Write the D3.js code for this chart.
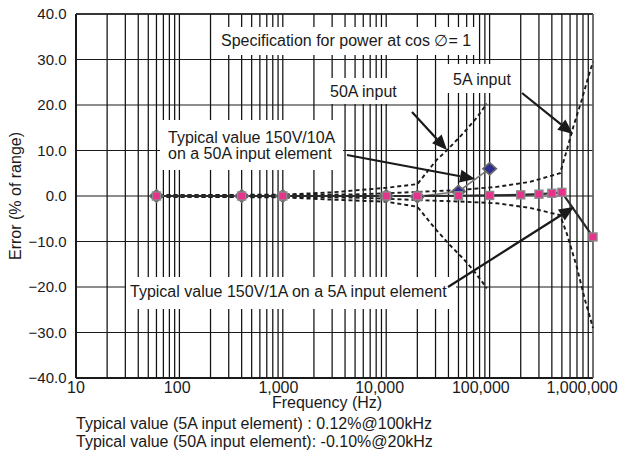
<!DOCTYPE html>
<html><head><meta charset="utf-8">
<script src="https://cdn.jsdelivr.net/npm/d3@7"></script>
<style>
body{margin:0;background:#fff}
svg{display:block;font-family:"Liberation Sans",Arial,Helvetica,sans-serif}
</style>
</head><body>
<svg id="c" width="619" height="454"></svg>
<script>
// ---------- data ----------
const yTickValues = [40, 30, 20, 10, 0, -10, -20, -30, -40];
const xTickValues = [10, 100, 1000, 10000, 100000, 1000000];
const xTickLabels = ["10", "100", "1,000", "10,000", "100,000", "1,000,000"];

// Typical value 150V/1A on a 5A input element (pink squares)
const freq5A = [60, 400, 1000, 10000, 20000, 50000, 100000, 200000, 300000, 400000, 500000, 1000000];
const err5A  = [0, 0, 0, 0, 0, 0.05, 0.12, 0.25, 0.4, 0.6, 0.8, -9.0];

// Typical value 150V/10A on a 50A input element (blue diamonds)
const freq50A = [60, 400, 1000, 10000, 20000, 50000, 100000];
const err50A  = [0, 0, 0, 0, -0.1, 1.0, 6.0];

// Specification for power at cos = 1 (dashed)
const spec5AUpFreq  = [55, 1000, 5000, 10000, 20000, 50000, 117000, 245000, 480000, 557000, 645000, 778000, 901000, 1000000];
const spec5AUpVal   = [0.15, 0.2, 0.35, 0.6, 0.9, 1.3, 2.0, 3.1, 5.0, 10.0, 15.2, 21.1, 26.2, 29.5];
const spec5ALoFreq  = [55, 1000, 5000, 10000, 20000, 50000, 117000, 245000, 480000, 557000, 695000, 838000, 1000000];
const spec5ALoVal   = [-0.15, -0.2, -0.35, -0.6, -0.9, -1.2, -1.6, -2.6, -4.2, -8.2, -15.5, -22.9, -29.0];
const spec50AUpFreq = [55, 1000, 3000, 10000, 20000, 30600, 38500, 55700, 75000, 94000];
const spec50AUpVal  = [0.15, 0.3, 0.8, 1.8, 2.6, 7.9, 10.0, 13.8, 17.2, 20.3];
const spec50ALoFreq = [55, 1000, 3000, 10000, 20000, 30600, 41400, 55700, 69500, 86900, 94000];
const spec50ALoVal  = [-0.15, -0.3, -0.8, -1.25, -2.35, -7.5, -10.8, -13.8, -16.3, -19.2, -20.3];

const yLabel = "Error (% of range)";
const xLabel = "Frequency (Hz)";
const captions = ["Typical value (5A input element) : 0.12%@100kHz",
                  "Typical value (50A input element): -0.10%@20kHz"];

// ---------- drawing ----------
const svg = d3.select("#c");
const W = 619, H = 454;
const x = d3.scaleLog().domain([10, 1e6]).range([76, 593]);
const y = d3.scaleLinear().domain([-40, 40]).range([378, 14]);
const ink = "#1a1a1a";

svg.append("rect").attr("width", W).attr("height", H).attr("fill", "#fff");

// vertical log grid
const g = svg.append("g");
g.selectAll("line.v").data(x.ticks()).join("line")
  .attr("x1", d => x(d)).attr("x2", d => x(d))
  .attr("y1", y(40)).attr("y2", y(-40))
  .attr("stroke", "#111").attr("stroke-width", 1.25);
// horizontal grid
g.selectAll("line.h").data(yTickValues).join("line")
  .attr("x1", x(10)).attr("x2", x(1e6))
  .attr("y1", d => y(d)).attr("y2", d => y(d))
  .attr("stroke", "#1a1a1a").attr("stroke-width", 1.2);
// frame
g.append("line").attr("x1", x(10)).attr("x2", x(10)).attr("y1", y(40)).attr("y2", y(-40)).attr("stroke", ink).attr("stroke-width", 2);
g.append("line").attr("x1", x(10)).attr("x2", x(1e6)).attr("y1", y(-40)).attr("y2", y(-40)).attr("stroke", ink).attr("stroke-width", 2);
g.append("line").attr("x1", x(10)).attr("x2", x(1e6)).attr("y1", y(40)).attr("y2", y(40)).attr("stroke", ink).attr("stroke-width", 1.6);
g.append("line").attr("x1", x(1e6)).attr("x2", x(1e6)).attr("y1", y(40)).attr("y2", y(-40)).attr("stroke", "#777").attr("stroke-width", 1.2);

// annotation boxes (white, hide grid)
const boxes = [
  [212, 27, 265, 28],
  [322, 78, 83, 26],
  [447, 64, 72, 29],
  [160, 120, 183, 50],
  [126, 277, 330, 32]
];
svg.selectAll("rect.box").data(boxes).join("rect")
  .attr("x", d => d[0]).attr("y", d => d[1]).attr("width", d => d[2]).attr("height", d => d[3])
  .attr("fill", "#fff");

// spec curves
const line = d3.line().x(d => x(d[0])).y(d => y(d[1]));
const specs = [
  d3.zip(spec5AUpFreq, spec5AUpVal),
  d3.zip(spec5ALoFreq, spec5ALoVal),
  d3.zip(spec50AUpFreq, spec50AUpVal),
  d3.zip(spec50ALoFreq, spec50ALoVal)
];
svg.selectAll("path.spec").data(specs).join("path")
  .attr("d", line).attr("fill", "none")
  .attr("stroke", "#1a1a1a").attr("stroke-width", 1.9).attr("stroke-dasharray", "4,3");

// series lines
const s50 = d3.zip(freq50A, err50A);
const s5 = d3.zip(freq5A, err5A);
svg.append("path").attr("d", line(s50)).attr("fill", "none").attr("stroke", "#777").attr("stroke-width", 1.6);
svg.append("path").attr("d", line(s5)).attr("fill", "none").attr("stroke", "#2a2a2a").attr("stroke-width", 2.2);

// diamonds
svg.selectAll("path.dia").data(s50).join("path")
  .attr("d", d3.symbol().type(d3.symbolDiamond2).size(95))
  .attr("transform", d => `translate(${x(d[0])},${y(d[1])}) scale(1.1,1)`)
  .attr("fill", "#2e2e8f").attr("stroke", "#6a6a6a").attr("stroke-width", 1.6);
// squares
svg.selectAll("rect.sq").data(s5).join("rect")
  .attr("x", d => x(d[0]) - 4).attr("y", d => y(d[1]) - 4)
  .attr("width", 8).attr("height", 8)
  .attr("fill", "#e8328c").attr("stroke", "#8a8a8a").attr("stroke-width", 1.4);

// arrows
const arrows = [
  [412, 112, 447, 150],
  [522, 93, 573, 134],
  [347, 155, 475, 179],
  [448, 287, 574, 207]
];
arrows.forEach(a => {
  const [x1, y1, x2, y2] = a;
  const ang = Math.atan2(y2 - y1, x2 - x1);
  const L = 15, Wd = 6.5;
  const bx = x2 - L * Math.cos(ang), by = y2 - L * Math.sin(ang);
  svg.append("line").attr("x1", x1).attr("y1", y1).attr("x2", bx).attr("y2", by)
    .attr("stroke", ink).attr("stroke-width", 2.2);
  const p1 = [bx + Wd * Math.sin(ang), by - Wd * Math.cos(ang)];
  const p2 = [bx - Wd * Math.sin(ang), by + Wd * Math.cos(ang)];
  svg.append("path").attr("d", `M${x2},${y2}L${p1[0]},${p1[1]}L${p2[0]},${p2[1]}Z`).attr("fill", ink);
});

// annotation text
const txt = (t, tx, ty, anchor) => svg.append("text").attr("x", tx).attr("y", ty)
  .attr("font-size", 16).attr("fill", ink).attr("text-anchor", anchor || "start").text(t);
txt("Specification for power at cos \u2205= 1", 221, 46);
txt("50A input", 330, 97);
txt("5A input", 453, 85);
txt("Typical value 150V/10A", 168, 143);
txt("on a 50A input element", 168, 159);
txt("Typical value 150V/1A on a 5A input element", 130, 297);

// y tick labels
svg.selectAll("text.yt").data(yTickValues).join("text")
  .attr("x", 66.5).attr("y", d => y(d) + 5)
  .attr("text-anchor", "end").attr("font-size", 15).attr("fill", ink)
  .text(d => d3.format(".1f")(d));
// x tick labels
svg.selectAll("text.xt").data(xTickValues).join("text")
  .attr("x", (d, i) => x(d) - 2.2 * i).attr("y", 393)
  .attr("text-anchor", "middle").attr("font-size", 16).attr("fill", ink)
  .text((d, i) => xTickLabels[i]);

txt(xLabel, 327, 408, "middle");
svg.append("text").attr("transform", "translate(21,196) rotate(-90)")
  .attr("text-anchor", "middle").attr("font-size", 16).attr("fill", ink).text(yLabel);
txt(captions[0], 76, 428.5);
txt(captions[1], 76, 446.5);
</script>
</body></html>
